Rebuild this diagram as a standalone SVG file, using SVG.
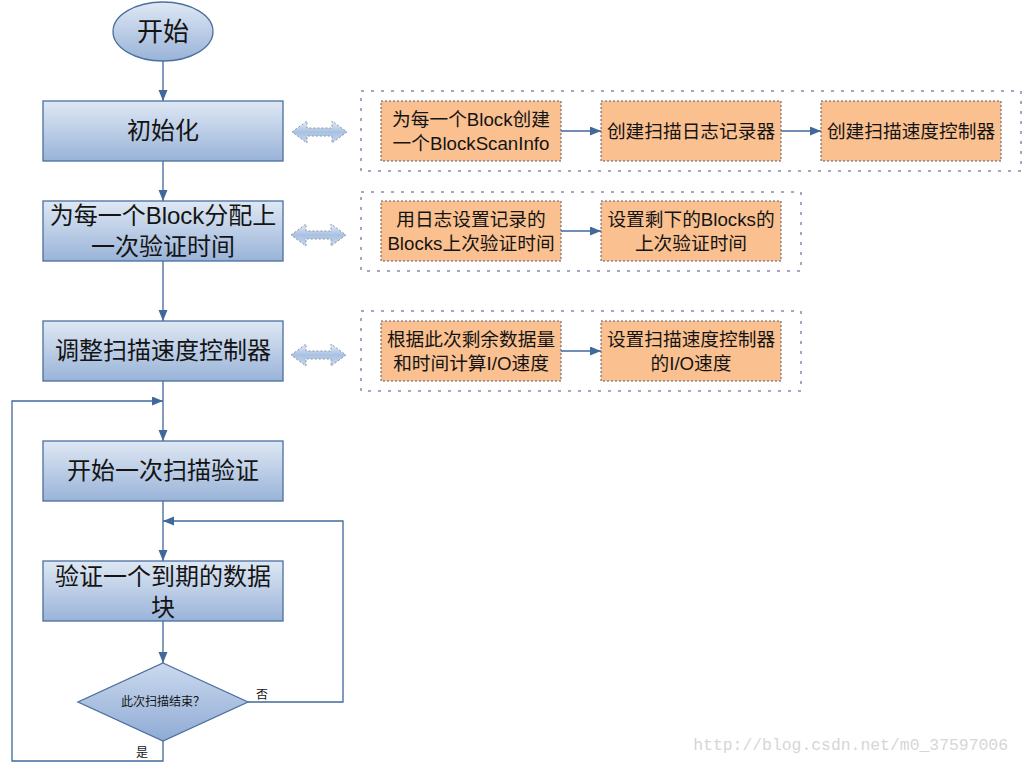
<svg xmlns="http://www.w3.org/2000/svg" width="1023" height="764" viewBox="0 0 1023 764">
<defs>
<linearGradient id="gBox" x1="0" y1="0" x2="0" y2="1">
<stop offset="0" stop-color="#dfe8f4"/>
<stop offset="1" stop-color="#99b3d8"/>
</linearGradient>
<linearGradient id="gDia" x1="0" y1="0" x2="0" y2="1">
<stop offset="0" stop-color="#cbd9ee"/>
<stop offset="1" stop-color="#8fabd4"/>
</linearGradient>
<linearGradient id="gDbl" x1="0" y1="0" x2="0" y2="1">
<stop offset="0" stop-color="#e6eef8"/>
<stop offset="0.5" stop-color="#a9c1e2"/>
<stop offset="1" stop-color="#c8d8ee"/>
</linearGradient>
<marker id="arr" markerUnits="userSpaceOnUse" markerWidth="12" markerHeight="10" refX="11" refY="4.5" orient="auto">
<path d="M0,0 L11,4.5 L0,9 Z" fill="#41689c"/>
</marker>
<path id="dbl" d="M0,0 L15,-11 L15,-4 L40,-4 L40,-11 L55,0 L40,11 L40,4 L15,4 L15,11 Z"/>
</defs>
<style>
.box{fill:url(#gBox);stroke:#4b6f9f;stroke-width:1.3}
.dia{fill:url(#gDia);stroke:#4b6f9f;stroke-width:1.3}
.org{fill:#fac08f;stroke:#5b5b70;stroke-width:1;stroke-dasharray:2 2}
.grp{fill:none;stroke:#a6a6c4;stroke-width:2;stroke-dasharray:3 7}
.dbl{fill:url(#gDbl);stroke:#8a96a8;stroke-width:1;stroke-dasharray:2 2}
.ln{fill:none;stroke:#41689c;stroke-width:1.3}
.t{font-family:"Liberation Sans","Noto Sans CJK SC",sans-serif;fill:#141414;text-anchor:middle}
.m{font-size:24px}
.o{font-size:18.7px}
.s{font-size:12px}
</style>
<rect width="1023" height="764" fill="#ffffff"/>

<g id="groups">
<rect class="grp" x="361" y="91" width="660" height="80"/>
<rect class="grp" x="361" y="192" width="440" height="79"/>
<rect class="grp" x="361" y="311" width="440" height="80"/>
</g>

<g id="connectors">
<line class="ln" x1="163" y1="61" x2="163" y2="101" marker-end="url(#arr)"/>
<line class="ln" x1="163" y1="161" x2="163" y2="201" marker-end="url(#arr)"/>
<line class="ln" x1="163" y1="261" x2="163" y2="321" marker-end="url(#arr)"/>
<line class="ln" x1="163" y1="381" x2="163" y2="441" marker-end="url(#arr)"/>
<line class="ln" x1="163" y1="501" x2="163" y2="561" marker-end="url(#arr)"/>
<line class="ln" x1="163" y1="621" x2="163" y2="663" marker-end="url(#arr)"/>
<polyline class="ln" points="163,741 163,761 12,761 12,401 163,401" marker-end="url(#arr)"/>
<polyline class="ln" points="248,702 343,702 343,521 163,521" marker-end="url(#arr)"/>
<line class="ln" x1="561" y1="131" x2="601" y2="131" marker-end="url(#arr)"/>
<line class="ln" x1="781" y1="131" x2="821" y2="131" marker-end="url(#arr)"/>
<line class="ln" x1="561" y1="231" x2="601" y2="231" marker-end="url(#arr)"/>
<line class="ln" x1="561" y1="351" x2="601" y2="351" marker-end="url(#arr)"/>
<use href="#dbl" class="dbl" x="292" y="132"/>
<use href="#dbl" class="dbl" x="291" y="235"/>
<use href="#dbl" class="dbl" x="291" y="355"/>
<text class="t s" x="262" y="699">否</text>
<text class="t s" x="142" y="757">是</text>
</g>

<g id="start">
<ellipse class="box" cx="163" cy="31.5" rx="50" ry="29.5"/>
<text class="t" style="font-size:26px" x="163" y="41">开始</text>
</g>
<g id="init">
<rect class="box" x="43" y="101" width="240" height="60"/>
<text class="t m" x="163" y="139">初始化</text>
</g>
<g id="assign">
<rect class="box" x="43" y="201" width="240" height="60"/>
<text class="t m" x="163" y="224">为每一个Block分配上</text>
<text class="t m" x="163" y="255">一次验证时间</text>
</g>
<g id="adjust">
<rect class="box" x="43" y="321" width="240" height="60"/>
<text class="t m" x="163" y="359">调整扫描速度控制器</text>
</g>
<g id="startscan">
<rect class="box" x="43" y="441" width="240" height="60"/>
<text class="t m" x="163" y="479">开始一次扫描验证</text>
</g>
<g id="verify">
<rect class="box" x="43" y="561" width="240" height="60"/>
<text class="t m" x="163" y="585">验证一个到期的数据</text>
<text class="t m" x="163" y="616">块</text>
</g>
<g id="decision">
<polygon class="dia" points="163,663 248,702 163,741 78,702"/>
<text class="t s" x="163" y="706">此次扫描结束？</text>
</g>

<g id="o1a">
<rect class="org" x="381" y="101" width="180" height="60"/>
<text class="t o" x="471" y="126">为每一个Block创建</text>
<text class="t o" x="471" y="150">一个BlockScanInfo</text>
</g>
<g id="o1b">
<rect class="org" x="601" y="101" width="180" height="60"/>
<text class="t o" x="691" y="138">创建扫描日志记录器</text>
</g>
<g id="o1c">
<rect class="org" x="821" y="101" width="180" height="60"/>
<text class="t o" x="911" y="138">创建扫描速度控制器</text>
</g>
<g id="o2a">
<rect class="org" x="381" y="201" width="180" height="60"/>
<text class="t o" x="471" y="226">用日志设置记录的</text>
<text class="t o" x="471" y="250">Blocks上次验证时间</text>
</g>
<g id="o2b">
<rect class="org" x="601" y="201" width="180" height="60"/>
<text class="t o" x="691" y="226">设置剩下的Blocks的</text>
<text class="t o" x="691" y="250">上次验证时间</text>
</g>
<g id="o3a">
<rect class="org" x="381" y="321" width="180" height="60"/>
<text class="t o" x="471" y="346">根据此次剩余数据量</text>
<text class="t o" x="471" y="370">和时间计算I/O速度</text>
</g>
<g id="o3b">
<rect class="org" x="601" y="321" width="180" height="60"/>
<text class="t o" x="691" y="346">设置扫描速度控制器</text>
<text class="t o" x="691" y="370">的I/O速度</text>
</g>

<text x="1008" y="750" style="font-family:'Liberation Mono',monospace;font-size:16.4px;fill:#d6d6d6;text-anchor:end">http://blog.csdn.net/m0_37597006</text>
</svg>
